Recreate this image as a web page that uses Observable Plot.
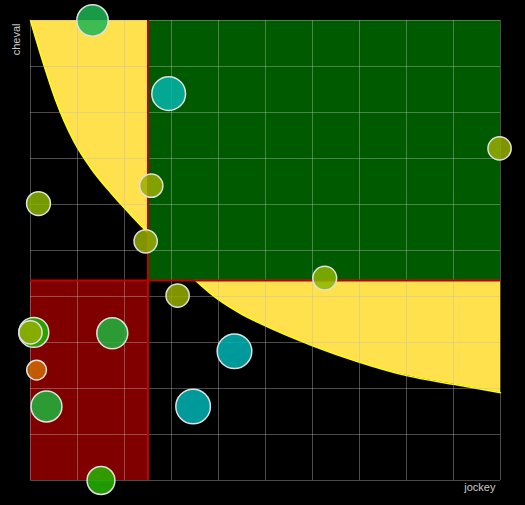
<!DOCTYPE html>
<html>
<head>
<meta charset="utf-8">
<script src="https://cdn.jsdelivr.net/npm/d3@7"></script>
<script src="https://cdn.jsdelivr.net/npm/@observablehq/plot@0.6"></script>
<style>
  html, body { margin: 0; padding: 0; background: #000; }
</style>
</head>
<body>
<div id="chart"></div>
<script>
// Couples jockey / cheval : position sur les deux axes et nombre de montes
const jockey = [1.32, 2.94, 9.98, 0.17, 2.57, 2.45, 6.26, 3.13, 0.07, 0.0, 1.74, 4.34, 0.13, 0.34, 3.46, 1.5];
const cheval = [10.0, 8.41, 7.22, 6.02, 6.41, 5.2, 4.4, 4.02, 3.22, 3.22, 3.2, 2.81, 2.4, 1.61, 1.61, 0.0];
const montes = [33, 38, 18, 19, 18, 18, 19, 18, 30, 18, 32, 40, 13, 32, 40, 26];

// Seuils des zones
const seuilJockey = 2.5;
const seuilCheval = 4.35;

// Courbe de compensation jockey / cheval
const courbeJockey = [0, 0.255, 0.532, 0.915, 1.277, 1.702, 2.128, 2.511, 3.021, 3.511, 4.0, 4.468, 4.894, 6, 7, 8, 9, 10];
const courbeCheval = [10, 9.13, 8.28, 7.39, 6.8, 6.26, 5.78, 5.37, 4.85, 4.35, 3.93, 3.63, 3.41, 2.93, 2.57, 2.28, 2.09, 1.91];

const domaine = [0, 10];
const graduations = d3.range(0, 11);

const couples = jockey.map((x, i) => ({jockey: x, cheval: cheval[i], montes: montes[i]}));
const courbe = courbeJockey.map((x, i) => ({x, y: courbeCheval[i]}));
const zoneHaute = [{x1: seuilJockey, x2: domaine[1], y1: seuilCheval, y2: domaine[1]}];
const zoneBasse = [{x1: domaine[0], x2: seuilJockey, y1: domaine[0], y2: seuilCheval}];

const chart = Plot.plot({
  width: 525,
  height: 505,
  marginLeft: 30,
  marginRight: 25,
  marginTop: 20,
  marginBottom: 25,
  style: {background: "#000", fontFamily: "Liberation Sans, Arial, sans-serif"},
  x: {domain: domaine, axis: null},
  y: {domain: domaine, axis: null},
  r: {type: "sqrt", domain: [0, 40], range: [0, 17.3]},
  color: {
    type: "linear",
    domain: [13, 18.5, 26, 30, 32.5, 38.5],
    range: ["#cf6a00", "#90b500", "#24b500", "#20bb00", "#1fb54b", "#00b5b5"],
    clamp: true
  },
  marks: [
    Plot.areaY(courbe, {x: "x", y1: "y", y2: domaine[1], fill: "#ffe14d", curve: "monotone-x"}),
    Plot.line(courbe, {x: "x", y: "y", stroke: "#ffff00", strokeWidth: 1.5, curve: "monotone-x"}),
    Plot.rect(zoneHaute, {x1: "x1", x2: "x2", y1: "y1", y2: "y2", fill: "#005a00"}),
    Plot.rect(zoneBasse, {x1: "x1", x2: "x2", y1: "y1", y2: "y2", fill: "#800000"}),
    Plot.gridX(graduations, {stroke: "#bbb", strokeOpacity: 0.4, strokeWidth: 1}),
    Plot.gridY(graduations, {stroke: "#bbb", strokeOpacity: 0.4, strokeWidth: 1}),
    Plot.ruleX([seuilJockey], {stroke: "#c00000", strokeWidth: 2}),
    Plot.ruleY([seuilCheval], {stroke: "#c00000", strokeWidth: 2}),
    Plot.dot(couples, {
      x: "jockey", y: "cheval", r: "montes", fill: "montes",
      fillOpacity: 0.85, stroke: "#e0e0e0", strokeWidth: 1.5
    }),
    Plot.text(["cheval"], {frameAnchor: "top-left", rotate: -90, textAnchor: "end", dx: -18, dy: 3, fill: "#ccc", fontSize: 11}),
    Plot.text(["jockey"], {frameAnchor: "bottom-right", textAnchor: "end", dx: -5, dy: 10, fill: "#ccc", fontSize: 11})
  ]
});

document.getElementById("chart").appendChild(chart);
</script>
</body>
</html>
